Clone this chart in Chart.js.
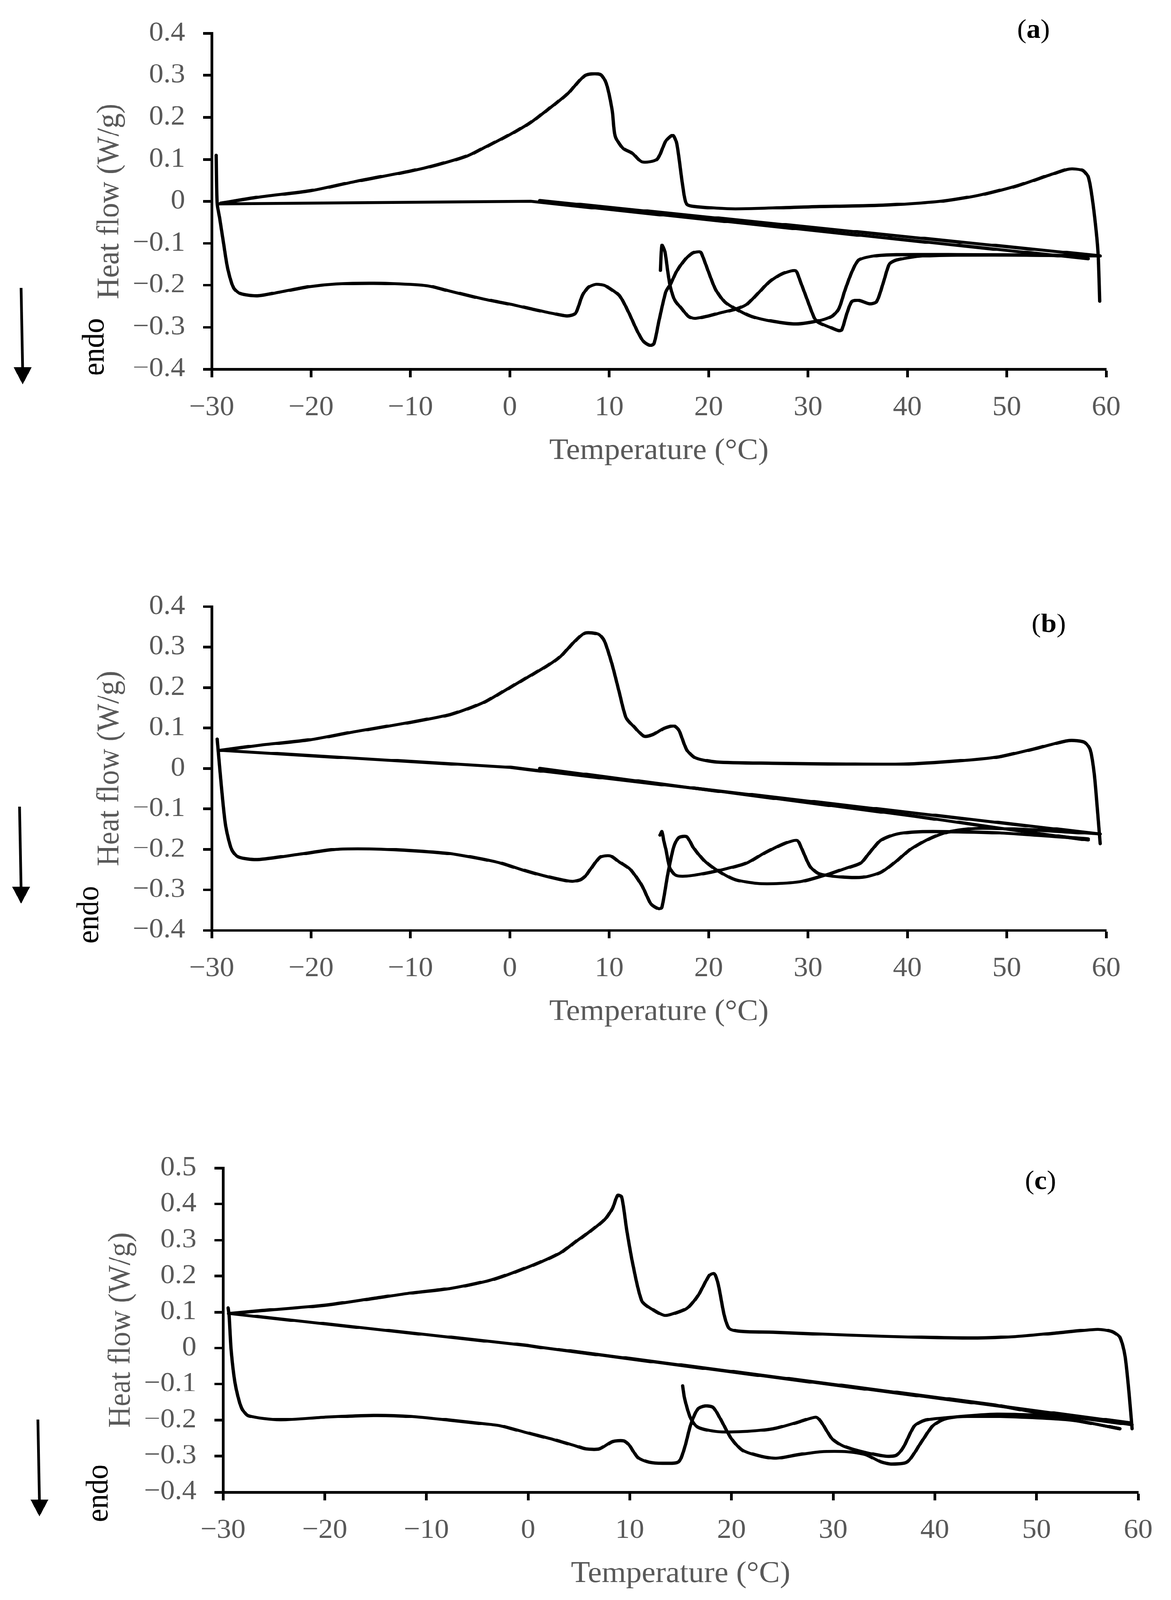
<!DOCTYPE html>
<html><head><meta charset="utf-8">
<script src="https://cdn.jsdelivr.net/npm/chart.js@4.4.1/dist/chart.umd.min.js"></script>
<style>
html,body{margin:0;padding:0;background:#fff;overflow:hidden;}
#page{position:absolute;left:0;top:0;width:2998px;height:4329px;transform-origin:0 0;background:#fff;}
canvas{position:absolute;left:0;}
</style></head><body>
<div id="page">
<canvas id="ca" width="2998" height="1269" style="top:0px;width:2998px;height:1269px"></canvas>
<canvas id="cb" width="2998" height="1236" style="top:1551px;width:2998px;height:1236px"></canvas>
<canvas id="cc" width="2998" height="1237" style="top:3070px;width:2998px;height:1237px"></canvas>
</div>
<script>
// ---------- shared tick labels ----------
const xTicks = [-30, -20, -10, 0, 10, 20, 30, 40, 50, 60];
const yTicksAB = [-0.4, -0.3, -0.2, -0.1, 0, 0.1, 0.2, 0.3, 0.4];
const yTicksC = [-0.4, -0.3, -0.2, -0.1, 0, 0.1, 0.2, 0.3, 0.4, 0.5];
const panelTags = ['a', 'b', 'c'];

// ---------- panel (a) ----------
const aCoolT  = [59.35,59.2,59.0,58.6,58.2,57.6,56.3,54.6,50.9,47.1,43.3,37.7,30.2,22.7,18.9,17.8,17.4,16.8,16.4,15.7,14.8,13.3,12.3,11.4,10.6,10.3,9.7,9.1,7.6,5.8,3.9,2.1,0,-2.4,-4.3,-7.3,-10,-15.6,-20.1,-25,-29.1];
const aCoolHF = [-0.238,-0.13,-0.072,0.007,0.058,0.074,0.077,0.065,0.036,0.014,0.0,-0.009,-0.013,-0.018,-0.013,-0.007,0.036,0.137,0.157,0.144,0.1,0.094,0.115,0.126,0.155,0.216,0.281,0.302,0.3,0.256,0.22,0.188,0.159,0.13,0.108,0.087,0.072,0.047,0.025,0.011,-0.004];
const aHeat1T  = [-29.55,-29.45,-29.2,-28.8,-28.4,-27.8,-27.1,-25.4,-23.1,-20.1,-17.5,-13.7,-10,-8.1,-6.2,-2.4,0,2.1,4.3,5.8,6.6,7.3,7.9,8.6,9.3,9.6,11.0,11.9,12.8,13.45,14.1,14.5,15.0,15.7,16.15,16.8,17.7,18.4,19.1,19.3,20.0,20.7,21.6,22.7,24.3,26.5,28.8,31.0,32.4,33.1,33.7,34.4,35.1,36.7,38.9,45,52,59.3];
const aHeat1HF = [0.11,-0.005,-0.04,-0.101,-0.159,-0.206,-0.22,-0.225,-0.216,-0.203,-0.197,-0.195,-0.198,-0.202,-0.213,-0.234,-0.245,-0.256,-0.267,-0.273,-0.267,-0.224,-0.205,-0.198,-0.199,-0.201,-0.224,-0.262,-0.308,-0.334,-0.343,-0.339,-0.285,-0.215,-0.198,-0.166,-0.137,-0.123,-0.12,-0.125,-0.169,-0.21,-0.239,-0.256,-0.274,-0.286,-0.292,-0.285,-0.274,-0.256,-0.213,-0.169,-0.14,-0.13,-0.127,-0.127,-0.128,-0.13];
const aHeat2T  = [15.15,15.3,15.6,15.9,16.15,16.6,17.3,17.96,18.6,19.8,21.3,22.7,23.8,24.9,26.1,27.2,28.3,28.8,29.2,29.9,30.6,31.0,32.2,33.1,33.4,33.9,34.4,35.1,36.2,36.9,37.6,38.2,38.9,41.2,45,52,58.5];
const aHeat2HF = [-0.165,-0.105,-0.12,-0.169,-0.204,-0.236,-0.256,-0.274,-0.279,-0.274,-0.265,-0.257,-0.246,-0.221,-0.192,-0.175,-0.166,-0.166,-0.189,-0.233,-0.276,-0.288,-0.3,-0.308,-0.306,-0.268,-0.239,-0.236,-0.244,-0.239,-0.192,-0.149,-0.14,-0.131,-0.128,-0.128,-0.13];
const aLine1T  = [-29.3, 2.1, 58.2];
const aLine1HF = [-0.006, 0.0, -0.137];
const aLine2T  = [3.0, 59.4];
const aLine2HF = [0.002, -0.13];

// ---------- panel (b) ----------
const bCoolT  = [59.4,59.3,59.1,58.8,58.4,57.8,56.3,54.6,52.7,49,45.2,39.6,33.9,26.4,20.8,18.7,17.8,17.0,16.5,15.5,14.4,13.5,12.5,11.7,11.0,10.3,9.5,8.9,7.6,6.6,5.1,3.9,2.1,0,-2.4,-4.3,-6.2,-10,-15.6,-20.1,-25,-29.1];
const bCoolHF = [-0.186,-0.156,-0.096,-0.013,0.046,0.065,0.069,0.06,0.048,0.028,0.019,0.011,0.011,0.013,0.016,0.026,0.046,0.095,0.105,0.099,0.084,0.08,0.103,0.125,0.189,0.256,0.316,0.332,0.335,0.316,0.277,0.256,0.23,0.2,0.166,0.147,0.132,0.114,0.091,0.071,0.058,0.045];
const bHeat1T  = [-29.45,-29.35,-29.0,-28.6,-28.0,-27.3,-25.4,-21.2,-17.5,-13.7,-10,-6.2,-3.2,-0.9,1.3,3.9,6.2,7.1,7.6,8.2,9.1,10.1,11.0,12.1,13.3,14.2,15.0,15.3,15.9,16.5,17.0,17.8,18.5,19.7,21.2,22.7,24.9,27.2,29.4,31.7,33.9,35.3,36.2,37.3,38.8,40.7,43.3,49.0,58.2];
const bHeat1HF = [0.073,0.045,-0.051,-0.141,-0.2,-0.219,-0.225,-0.212,-0.2,-0.199,-0.203,-0.21,-0.222,-0.234,-0.251,-0.268,-0.279,-0.275,-0.266,-0.246,-0.219,-0.216,-0.231,-0.249,-0.29,-0.335,-0.347,-0.343,-0.26,-0.193,-0.171,-0.169,-0.197,-0.231,-0.257,-0.275,-0.284,-0.284,-0.279,-0.264,-0.246,-0.234,-0.208,-0.178,-0.163,-0.157,-0.156,-0.159,-0.174];
const bHeat2T  = [15.1,15.3,15.5,15.7,16.1,16.7,17.8,19.7,21.9,23.8,25.7,27.6,28.9,29.4,30.2,31.1,33.2,35.5,37.3,38.8,40.3,42.2,44.1,47.1,52.7,59.4];
const bHeat2HF = [-0.165,-0.156,-0.18,-0.2,-0.246,-0.264,-0.266,-0.259,-0.247,-0.234,-0.208,-0.186,-0.178,-0.2,-0.242,-0.26,-0.268,-0.269,-0.257,-0.231,-0.2,-0.174,-0.157,-0.148,-0.152,-0.162];
const bLine1T  = [-29.3, 0, 2.0, 59.4];
const bLine1HF = [0.045, 0.003, -0.003, -0.162];
const bLine2T  = [3.0, 40.7, 52.7, 58.2];
const bLine2HF = [0.0, -0.118, -0.159, -0.177];

// ---------- panel (c) ----------
const cCoolT  = [59.4,59.1,58.7,58.2,57.4,56,51.6,47.9,44.2,38.7,31.4,24.1,21.1,19.8,19.3,18.7,18.3,17.8,16.7,15.6,14.1,13.4,12.3,11.2,10.3,9.7,9.2,8.8,8.3,7.5,5.7,4.7,3.2,1.4,0,-2.3,-4.2,-7.8,-11.5,-15.2,-20,-26.2,-29.45];
const cCoolHF = [-0.224,-0.125,-0.021,0.03,0.046,0.052,0.041,0.032,0.028,0.03,0.036,0.044,0.046,0.054,0.09,0.177,0.207,0.201,0.145,0.11,0.094,0.091,0.106,0.13,0.233,0.328,0.42,0.424,0.388,0.356,0.316,0.296,0.265,0.241,0.225,0.201,0.185,0.165,0.153,0.138,0.119,0.104,0.096];
const cHeat1T  = [-29.5,-29.4,-29.2,-28.8,-28.2,-27.5,-24.4,-20,-15.2,-11.5,-7.8,-4.1,-2.7,0,2.5,4.7,5.7,7.0,8.3,9.4,9.9,10.8,11.9,13.4,14.8,15.4,16,16.7,17.4,18.2,18.9,20,21.1,23,24.4,26.6,28.8,31.4,33.2,34.7,35.8,37.3,38.7,39.8,40.9,42.4,46.1,53.4,58.2];
const cHeat1HF = [0.112,0.09,-0.006,-0.1,-0.165,-0.188,-0.199,-0.192,-0.187,-0.19,-0.2,-0.211,-0.216,-0.236,-0.254,-0.272,-0.28,-0.28,-0.26,-0.258,-0.268,-0.304,-0.317,-0.32,-0.316,-0.276,-0.212,-0.169,-0.161,-0.165,-0.196,-0.252,-0.284,-0.301,-0.306,-0.296,-0.288,-0.288,-0.296,-0.316,-0.322,-0.316,-0.26,-0.216,-0.198,-0.191,-0.19,-0.2,-0.224];
const cHeat2T  = [15.2,15.4,16,16.7,18.6,21.1,24.1,26.3,28.3,28.8,29.9,31,32.9,35.1,36.2,36.9,38,39.1,40.9,46.1,53.4,59.4];
const cHeat2HF = [-0.105,-0.141,-0.196,-0.22,-0.232,-0.232,-0.224,-0.208,-0.192,-0.204,-0.252,-0.272,-0.288,-0.3,-0.298,-0.276,-0.216,-0.2,-0.194,-0.184,-0.192,-0.213];
const cLine1T  = [-29.45, 0, 1.2, 59.3];
const cLine1HF = [0.096, 0.007, 0.002, -0.208];
const cLine2T  = [3.0, 46, 58.2];
const cLine2HF = [-0.004, -0.158, -0.224];

// ---------- fit the 2998x4329 figure into the actual viewport ----------
(function () {
  const sy = Math.min(1, (window.innerHeight || 4329) / 4329);
  document.getElementById('page').style.transform = 'scale(1,' + sy + ')';
})();

// ---------- helpers ----------
const FONT = 'Liberation Serif';
const GRAY = '#595959';
const LW = 8.5;
const pts = (xs, ys) => xs.map((x, i) => ({x: x, y: ys[i]}));
const fmt = v => { const r = Math.round(v * 10) / 10; return (r < 0 ? '\u2212' : '') + String(Math.abs(r)); };

const decor = {
  id: 'decor',
  afterDraw(chart, args, o) {
    const ctx = chart.ctx;
    ctx.save();
    // arrow
    ctx.strokeStyle = '#000'; ctx.fillStyle = '#000'; ctx.lineWidth = 7;
    ctx.beginPath(); ctx.moveTo(o.ax, o.aTop - o.top); ctx.lineTo(o.ax + 4, o.aTip - 40 - o.top); ctx.stroke();
    ctx.beginPath();
    ctx.moveTo(o.ax + 4 - 23, o.aTip - 46 - o.top);
    ctx.lineTo(o.ax + 4 + 23, o.aTip - 46 - o.top);
    ctx.lineTo(o.ax + 4, o.aTip - o.top);
    ctx.closePath(); ctx.fill();
    // endo
    ctx.save();
    ctx.translate(o.ex, o.ey - o.top); ctx.rotate(-Math.PI / 2);
    ctx.font = '80px "' + FONT + '"'; ctx.textAlign = 'center'; ctx.textBaseline = 'middle';
    ctx.fillText('endo', 0, 0);
    ctx.restore();
    // panel tag
    const fn = '72px "' + FONT + '"', fb = 'bold 72px "' + FONT + '"';
    ctx.font = fn; const w1 = ctx.measureText('(').width;
    ctx.font = fb; const w2 = ctx.measureText(o.tag).width;
    ctx.font = fn; const w3 = ctx.measureText(')').width;
    let x = o.tx - (w1 + w2 + w3) / 2; const y = o.ty - o.top;
    ctx.textAlign = 'left'; ctx.textBaseline = 'middle';
    ctx.fillText('(', x, y); x += w1;
    ctx.font = fb; ctx.fillText(o.tag, x, y); x += w2;
    ctx.font = fn; ctx.fillText(')', x, y);
    ctx.restore();
  }
};

function makePanel(id, P, series, yMin, yMax) {
  const ds = series.map((s, i) => ({
    data: pts(s[0], s[1]), borderColor: '#000', borderWidth: LW, pointRadius: 0,
    showLine: true, tension: i < 2 ? 0 : 0.25, fill: false, borderCapStyle: 'round', borderJoinStyle: 'round'
  }));
  new Chart(document.getElementById(id), {
    type: 'scatter',
    data: { datasets: ds },
    plugins: [decor],
    options: {
      responsive: false, animation: false, devicePixelRatio: 1,
      layout: { padding: { left: 0, top: P.chartTop - P.top, right: 2998 - P.right, bottom: 0 } },
      plugins: { legend: { display: false }, tooltip: { enabled: false }, decor: P.decor },
      scales: {
        x: {
          type: 'linear', min: xTicks[0], max: xTicks[xTicks.length - 1],
          afterBuildTicks: s => { s.ticks = xTicks.map(v => ({value: v})); },
          afterFit: s => { s.height = 270; },
          border: { display: true, color: '#000', width: 7 },
          grid: { drawOnChartArea: false, drawTicks: true, tickLength: 22, tickWidth: 7, tickColor: '#000' },
          ticks: { color: GRAY, font: { family: FONT, size: 74 }, padding: 38, callback: v => fmt(v), maxRotation: 0 },
          title: { display: true, text: 'Temperature (\u00B0C)', color: GRAY, font: { family: FONT, size: 80 }, padding: { top: 0, bottom: 0 } }
        },
        y: {
          type: 'linear', min: yMin, max: yMax,
          afterBuildTicks: s => { s.ticks = (yMax > 0.45 ? yTicksC : yTicksAB).map(v => ({value: v})); },
          afterFit: s => { s.width = P.left; },
          border: { display: true, color: '#000', width: 7 },
          grid: { drawOnChartArea: false, drawTicks: true, tickLength: 22, tickWidth: 7, tickColor: '#000' },
          ticks: { color: GRAY, font: { family: FONT, size: 74 }, padding: 46, callback: v => fmt(v) },
          title: { display: true, text: 'Heat flow (W/g)', color: GRAY, font: { family: FONT, size: 80 }, padding: { top: P.left - 260 - 48, bottom: 0 } }
        }
      }
    }
  });
}

makePanel('ca', { top: 0, left: 542, right: 2832, chartTop: 80,
  decor: { top: 0, ax: 54, aTop: 779, aTip: 1040, ex: 244, ey: 939, tag: panelTags[0], tx: 2646, ty: 83 } },
  [[aLine1T, aLine1HF], [aLine2T, aLine2HF], [aCoolT, aCoolHF], [aHeat1T, aHeat1HF], [aHeat2T, aHeat2HF]], -0.4, 0.4);

makePanel('cb', { top: 1551, left: 542, right: 2832, chartTop: 1631,
  decor: { top: 1551, ax: 50, aTop: 2182, aTip: 2445, ex: 230, ey: 2475, tag: panelTags[1], tx: 2685, ty: 1691 } },
  [[bLine1T, bLine1HF], [bLine2T, bLine2HF], [bCoolT, bCoolHF], [bHeat1T, bHeat1HF], [bHeat2T, bHeat2HF]], -0.4, 0.4);

makePanel('cc', { top: 3070, left: 571, right: 2914, chartTop: 3150,
  decor: { top: 3070, ax: 97, aTop: 3841, aTip: 4103, ex: 254, ey: 4040, tag: panelTags[2], tx: 2664, ty: 3198 } },
  [[cLine1T, cLine1HF], [cLine2T, cLine2HF], [cCoolT, cCoolHF], [cHeat1T, cHeat1HF], [cHeat2T, cHeat2HF]], -0.4, 0.5);
</script>
</body></html>
